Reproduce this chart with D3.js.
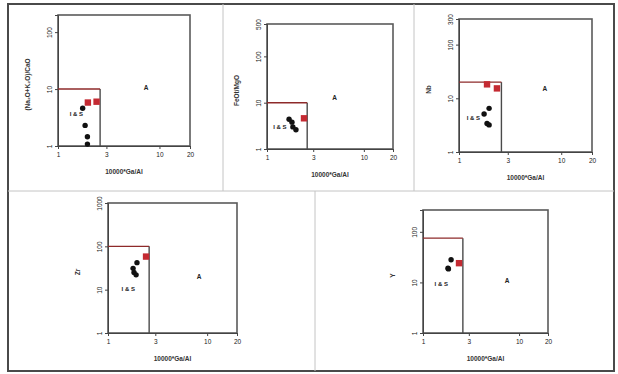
<!DOCTYPE html>
<html>
<head>
<meta charset="utf-8">
<script src="https://cdn.jsdelivr.net/npm/d3@7"></script>
<style>
  html, body { margin: 0; padding: 0; background: #fff; }
  svg { display: block; font-family: "Liberation Sans", Arial, sans-serif; }
</style>
</head>
<body>
<svg id="chart" width="618" height="374"></svg>
<script>
// values
const gaAlTicks = [1, 3, 10, 20];
const gaAlDomain = [1, 20];
const gaAlBoundary = 2.6;
const xTitle = "10000*Ga/Al";

const yTitles = ["(Na\u2082O+K\u2082O)/CaO", "FeOt/MgO", "Nb", "Zr", "Y"];
const yDomains = [[1, 200], [1, 500], [1, 300], [1, 1000], [1, 270]];
const yTicks = [[1, 10, 100], [1, 10, 100, 500], [1, 10, 100, 300], [1, 10, 100, 1000], [1, 10, 100]];
const yBoundary = [10, 10, 20, 100, 75];

const blackSamples = [
  [[1.75, 4.6], [1.85, 2.3], [1.95, 1.45], [1.95, 1.08]],
  [[1.69, 4.4], [1.81, 3.8], [1.85, 3.0], [1.99, 2.6]],
  [[1.97, 6.5], [1.76, 5.1], [1.88, 3.4], [1.97, 3.2]],
  [[1.96, 42], [1.79, 31], [1.83, 25], [1.92, 22]],
  [[1.96, 28], [1.82, 19], [1.84, 18.5]]
];
const redSamples = [
  [[1.97, 5.8], [2.4, 6.0]],
  [[2.41, 4.6]],
  [[1.88, 18.2], [2.35, 15.3]],
  [[2.42, 58]],
  [[2.37, 24]]
];
const labelA = [[7.4, 10.5], [5.0, 13], [6.9, 15.3], [8.3, 20], [7.5, 11]];
const labelIS = [[1.52, 3.7], [1.36, 3.0], [1.38, 4.3], [1.6, 10.5], [1.55, 9.3]];

// plot boxes, pixels
const boxes = [
  { x0: 58, x1: 190, y0: 15, y1: 146 },
  { x0: 267, x1: 393, y0: 24, y1: 149 },
  { x0: 459, x1: 592, y0: 19, y1: 152 },
  { x0: 108, x1: 237, y0: 203, y1: 333 },
  { x0: 423, x1: 548, y0: 210, y1: 333 }
];

const svg = d3.select("#chart");

// frame and panel dividers
svg.append("rect")
  .attr("x", 8).attr("y", 4).attr("width", 606).attr("height", 367)
  .attr("fill", "none").attr("stroke", "#4a4a4a").attr("stroke-width", 2);
[[8, 191, 614, 191], [223, 4, 223, 191], [414, 4, 414, 191], [315, 191, 315, 371]]
  .forEach(([x1, y1, x2, y2]) => {
    svg.append("line")
      .attr("x1", x1).attr("y1", y1).attr("x2", x2).attr("y2", y2)
      .attr("stroke", "#c4c4c4").attr("stroke-width", 1);
  });

boxes.forEach((b, i) => {
  const x = d3.scaleLog().domain(gaAlDomain).range([b.x0, b.x1]);
  const y = d3.scaleLog().domain(yDomains[i]).range([b.y1, b.y0]);
  const g = svg.append("g");

  g.append("rect")
    .attr("x", b.x0).attr("y", b.y0)
    .attr("width", b.x1 - b.x0).attr("height", b.y1 - b.y0)
    .attr("fill", "none").attr("stroke", "#5a5a5a").attr("stroke-width", 1.6);

  const xAxis = g.append("g")
    .attr("transform", `translate(0,${b.y1})`)
    .call(d3.axisBottom(x).tickValues(gaAlTicks).tickFormat(d3.format("d")).tickSize(3).tickPadding(3));
  xAxis.select(".domain").attr("stroke", "#444");
  xAxis.selectAll(".tick line").attr("stroke", "#444");
  xAxis.selectAll("text").attr("font-size", 6.5).attr("fill", "#222");

  const yAxis = g.append("g")
    .attr("transform", `translate(${b.x0},0)`)
    .call(d3.axisLeft(y).tickValues(yTicks[i]).tickFormat(d3.format("d")).tickSize(3));
  yAxis.select(".domain").attr("stroke", "#444");
  yAxis.selectAll(".tick line").attr("stroke", "#444");
  yAxis.selectAll("text")
    .attr("font-size", 6.5).attr("fill", "#222")
    .attr("x", 0).attr("y", -6).attr("dy", 0)
    .attr("text-anchor", "middle")
    .attr("transform", "rotate(-90)");

  // I&S / A boundary
  g.append("line")
    .attr("x1", x(gaAlBoundary)).attr("x2", x(gaAlBoundary))
    .attr("y1", y(yBoundary[i])).attr("y2", b.y1)
    .attr("stroke", "#4a4a4a").attr("stroke-width", 1.4);
  g.append("line")
    .attr("x1", b.x0).attr("x2", x(gaAlBoundary))
    .attr("y1", y(yBoundary[i])).attr("y2", y(yBoundary[i]))
    .attr("stroke", "#8e2a2a").attr("stroke-width", 1.4);

  g.selectAll("rect.red")
    .data(redSamples[i])
    .join("rect")
    .attr("class", "red")
    .attr("x", (d) => x(d[0]) - 3.2).attr("y", (d) => y(d[1]) - 3.2)
    .attr("width", 6.4).attr("height", 6.4)
    .attr("fill", "#c42a32");

  g.selectAll("circle.black")
    .data(blackSamples[i])
    .join("circle")
    .attr("class", "black")
    .attr("cx", (d) => x(d[0])).attr("cy", (d) => y(d[1]))
    .attr("r", 2.7)
    .attr("fill", "#111");

  g.append("text")
    .attr("x", x(labelA[i][0])).attr("y", y(labelA[i][1]))
    .attr("dy", "0.35em").attr("text-anchor", "middle")
    .attr("font-size", 6.5).attr("font-weight", "bold").attr("fill", "#222")
    .text("A");
  g.append("text")
    .attr("x", x(labelIS[i][0])).attr("y", y(labelIS[i][1]))
    .attr("dy", "0.35em").attr("text-anchor", "middle")
    .attr("font-size", 6).attr("font-weight", "bold").attr("fill", "#222")
    .text("I & S");

  g.append("text")
    .attr("x", (b.x0 + b.x1) / 2).attr("y", b.y1 + 28)
    .attr("text-anchor", "middle")
    .attr("font-size", 6.5).attr("font-weight", "bold").attr("fill", "#333")
    .text(xTitle);

  g.append("text")
    .attr("transform", `translate(${b.x0 - 28},${(b.y0 + b.y1) / 2 + 4}) rotate(-90)`)
    .attr("text-anchor", "middle")
    .attr("font-size", 6.5).attr("font-weight", "bold").attr("fill", "#333")
    .text(yTitles[i]);
});
</script>
</body>
</html>
